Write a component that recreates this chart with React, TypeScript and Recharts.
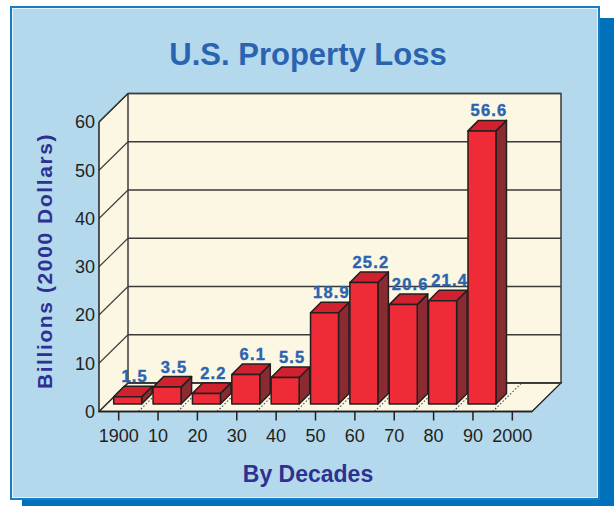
import React from "react";
import {
  BarChart,
  Bar,
  XAxis,
  YAxis,
  CartesianGrid,
  LabelList,
} from "recharts";

// decades along the floor, the last one has no bar
const decades = ["1900", "10", "20", "30", "40", "50", "60", "70", "80", "90", "2000"];
// billions of 2000 dollars
const losses: (number | null)[] = [1.5, 3.5, 2.2, 6.1, 5.5, 18.9, 25.2, 20.6, 21.4, 56.6, null];
const yTicks = [0, 10, 20, 30, 40, 50, 60];

const data = decades.map((decade, i) => ({ decade, loss: losses[i] }));

const W = 614;
const H = 506;
const MARGIN = { top: 122, right: 82, bottom: 54.5, left: 0 };
const Y_AXIS_W = 99;
const X_AXIS_H = 40;
const PLOT_W = W - MARGIN.left - MARGIN.right - Y_AXIS_W;
const PLOT_TOP = MARGIN.top;
const PLOT_BOTTOM = H - MARGIN.bottom - X_AXIS_H;
const BAND = PLOT_W / decades.length;

// depth of the box and of the bars
const DX = 29;
const DY = 28.5;
const BAR_SHIFT_X = 9;
const BAR_SHIFT_Y = 7.5;
const BAR_DX = 10.5;
const BAR_DY = 10.5;

const INK = "#231f20";
const CREAM = "#fbf7e3";
const FONT = "'Liberation Sans', Arial, Helvetica, sans-serif";

// eslint-disable-next-line @typescript-eslint/no-explicit-any
function renderHLine(props: any) {
  const { x1, x2, y1, index } = props;
  const top = typeof props.y === "number" ? props.y : PLOT_TOP;
  const bottom =
    typeof props.y === "number" && typeof props.height === "number"
      ? props.y + props.height
      : PLOT_BOTTOM;
  return (
    <g key={`h-${index}`}>
      {index === 0 && (
        <g>
          <polygon
            points={`${x1},${bottom} ${x1},${top} ${x1 + DX},${top - DY} ${x1 + DX},${bottom - DY}`}
            fill={CREAM}
          />
          <rect
            x={x1 + DX}
            y={top - DY}
            width={x2 - x1}
            height={bottom - top}
            fill={CREAM}
            stroke={INK}
            strokeWidth={1.3}
          />
          <polygon
            points={`${x1},${bottom} ${x2},${bottom} ${x2 + DX},${bottom - DY} ${x1 + DX},${bottom - DY}`}
            fill={CREAM}
            stroke={INK}
            strokeWidth={1.3}
          />
          <line x1={x1} y1={top} x2={x1 + DX} y2={top - DY} stroke={INK} strokeWidth={1.3} />
        </g>
      )}
      <line x1={x1} y1={y1} x2={x1 + DX} y2={y1 - DY} stroke="#3a3a3a" strokeWidth={1.1} />
      <line x1={x1 + DX} y1={y1 - DY} x2={x2 + DX} y2={y1 - DY} stroke="#3a3a3a" strokeWidth={1.3} />
    </g>
  );
}

// eslint-disable-next-line @typescript-eslint/no-explicit-any
function renderVLine(props: any) {
  const { x1, index } = props;
  if (index >= decades.length - 1) return <g key={`v-${index}`} />;
  const xb = x1 + BAND / 2;
  const bottom =
    typeof props.y2 === "number" ? Math.max(props.y1, props.y2) : PLOT_BOTTOM;
  return (
    <line
      key={`v-${index}`}
      x1={xb}
      y1={bottom}
      x2={xb + DX}
      y2={bottom - DY}
      stroke="#444"
      strokeWidth={1.1}
      strokeDasharray="1.5 2"
    />
  );
}

// eslint-disable-next-line @typescript-eslint/no-explicit-any
function Bar3D(props: any) {
  const { x, y, width, height, payload } = props;
  if (payload == null || payload.loss == null || !height) return <g />;
  const fx = x + BAR_SHIFT_X;
  const fy = y - BAR_SHIFT_Y;
  const w = width;
  const h = height;
  return (
    <g strokeLinejoin="round">
      <polygon
        points={`${fx + w},${fy} ${fx + w + BAR_DX},${fy - BAR_DY} ${fx + w + BAR_DX},${fy + h - BAR_DY} ${fx + w},${fy + h}`}
        fill="#8a2a31"
        stroke={INK}
        strokeWidth={1.5}
      />
      <polygon
        points={`${fx},${fy} ${fx + w},${fy} ${fx + w + BAR_DX},${fy - BAR_DY} ${fx + BAR_DX},${fy - BAR_DY}`}
        fill="#d1212f"
        stroke={INK}
        strokeWidth={1.5}
      />
      <rect x={fx} y={fy} width={w} height={h} fill="#ee2b36" stroke={INK} strokeWidth={1.5} />
    </g>
  );
}

// eslint-disable-next-line @typescript-eslint/no-explicit-any
function renderValue(props: any) {
  const { x, y, width, value, index } = props;
  if (value == null) return null;
  return (
    <text
      key={`lbl-${index}`}
      x={x + BAR_SHIFT_X + width / 2 + 7}
      y={y - BAR_SHIFT_Y - BAR_DY - 4}
      textAnchor="middle"
      fill="#2a64b0"
      fontSize={16.5}
      fontWeight="bold"
      letterSpacing={1.2}
      fontFamily={FONT}
      stroke="#2a64b0"
      strokeWidth={0.4}
    >
      {value}
    </text>
  );
}

export default function App() {
  return (
    <div
      style={{
        position: "absolute",
        left: 0,
        top: 0,
        width: W,
        height: H,
        background: "#fff",
        fontFamily: FONT,
      }}
    >
      <div
        style={{
          position: "absolute",
          left: 22,
          top: 18,
          width: 592,
          height: 488,
          background: "#0072bc",
        }}
      />
      <div
        style={{
          position: "absolute",
          left: 10,
          top: 6,
          width: 586,
          height: 490,
          background: "#b4d9ec",
          border: "2px solid #1a7cc2",
          boxShadow: "inset 0 0 0 1px #e4f2fa",
        }}
      />
      <div style={{ position: "absolute", left: 0, top: 0 }}>
        <BarChart width={W} height={H} data={data} margin={MARGIN} barCategoryGap="14.5%">
          <CartesianGrid horizontal={renderHLine} vertical={renderVLine} />
          <XAxis
            dataKey="decade"
            height={X_AXIS_H}
            interval={0}
            tickSize={9}
            tickMargin={8.5}
            axisLine={{ stroke: INK, strokeWidth: 1.5 }}
            tickLine={{ stroke: INK, strokeWidth: 1.5 }}
            tick={{ fill: INK, fontSize: 18, fontFamily: FONT }}
          />
          <YAxis
            domain={[0, 60]}
            ticks={yTicks}
            width={Y_AXIS_W}
            interval={0}
            tickSize={0}
            tickMargin={4}
            tickLine={false}
            axisLine={{ stroke: INK, strokeWidth: 1.5 }}
            tick={{ fill: INK, fontSize: 18, fontFamily: FONT }}
          />
          <Bar dataKey="loss" shape={Bar3D} isAnimationActive={false}>
            <LabelList dataKey="loss" content={renderValue} />
          </Bar>
        </BarChart>
      </div>
      <svg
        width={W}
        height={H}
        style={{ position: "absolute", left: 0, top: 0, pointerEvents: "none" }}
      >
        <text
          x={308}
          y={65}
          textAnchor="middle"
          fill="#2a64b0"
          fontSize={31}
          fontWeight="bold"
          fontFamily={FONT}
        >
          U.S. Property Loss
        </text>
        <text
          x={308}
          y={481.5}
          textAnchor="middle"
          fill="#2e3192"
          fontSize={23}
          fontWeight="bold"
          fontFamily={FONT}
        >
          By Decades
        </text>
        <text
          transform="translate(51.5, 261) rotate(-90)"
          textAnchor="middle"
          fill="#2e3192"
          fontSize={21}
          fontWeight="bold"
          letterSpacing={1.6}
          fontFamily={FONT}
        >
          Billions (2000 Dollars)
        </text>
      </svg>
    </div>
  );
}
